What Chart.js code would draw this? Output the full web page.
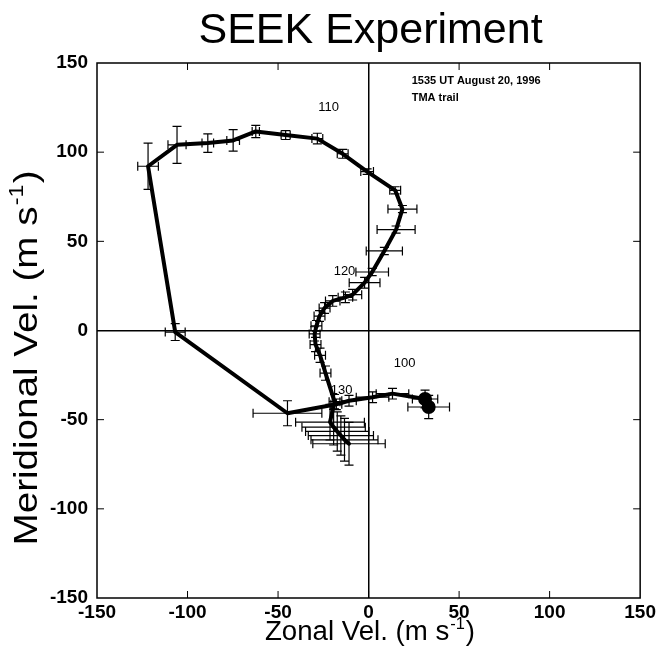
<!DOCTYPE html>
<html>
<head>
<meta charset="utf-8">
<script src="https://cdn.jsdelivr.net/npm/chart.js@4"></script>
<style>
html, body { margin: 0; padding: 0; background: #fff; }
#wrap { width: 659px; height: 649px; }
</style>
</head>
<body>
<div id="wrap"><canvas id="seek"></canvas></div>
<script>
// TMA trail, zonal / meridional wind (m/s) with error bars
const zonal = [33.2, 31.2, 13.2, 2.2, -10.8, -17.8, -44.8,
  -106.8, -121.8, -105.8, -88.8, -74.8, -62.3, -45.8, -28.3, -14.3, -0.8,
  14.7, 18.7, 15.2, 8.7, 2.0, -2.2, -8.8, -12.8, -19.8, -24.3,
  -27.1, -28.8, -29.8, -29.3, -26.8, -23.8, -18.8,
  -21.3, -19.3, -17.3, -15.3, -13.3, -10.8];
const meridional = [-42.9, -38.4, -35.4, -37.4, -39.4, -41.4, -46.4,
  -0.9, 92.1, 104.1, 105.1, 106.6, 111.6, 109.6, 107.6, 99.1, 89.1,
  78.6, 68.1, 56.6, 44.6, 32.8, 26.8, 20.1, 18.6, 16.6, 12.6,
  8.1, 2.6, -1.9, -7.9, -13.9, -23.9, -39.9,
  -51.4, -54.2, -56.6, -58.9, -61.3, -63.5];
const zonalErr = [11.5, 7, 9, 9, 4, 3, 19,
  5.5, 5.7, 5, 3.2, 3.5, 2, 2.5, 3, 3, 3.5,
  3, 8, 10.5, 10, 9, 8.5, 5, 4, 4, 3,
  3, 3, 3, 3, 3, 3, 3,
  19, 17.5, 17.5, 18, 18.5, 20];
const meridErr = [6.5, 5, 3, 3, 3, 3, 7,
  4.7, 13, 10.4, 5.2, 6, 3.4, 2.5, 3, 2.5, 1.5,
  2, 2, 2, 2, 2, 3, 3, 3, 3, 3,
  3, 3, 4, 4, 4, 4, 4,
  10, 10, 11, 11, 12, 12];

// altitude labels along the trail
const heightLabels = ['100', '110', '120', '130'];
const heightZonal = [19.9, -22.1, -13.3, -14.9];
const heightMerid = [-18.5, 125.1, 32.9, -33.5];

const infoLines = ['1535 UT August 20, 1996', 'TMA trail'];
const infoZonal = 23.8;
const infoMerid = 138.5;

const axisTicks = [-150, -100, -50, 0, 50, 100, 150];

const FONT = '"Liberation Sans", Arial, Helvetica, sans-serif';

const points = zonal.map((x, i) => ({ x: x, y: meridional[i] }));

function axisTitle(ctx, x, y, angle, size, span, main) {
  const supSize = Math.round(size * 0.6);
  ctx.save();
  ctx.translate(x, y);
  ctx.rotate(angle);
  ctx.font = `${size}px ${FONT}`;
  const w1 = ctx.measureText(main).width;
  const w3 = ctx.measureText(')').width;
  ctx.font = `${supSize}px ${FONT}`;
  const w2 = ctx.measureText('-1').width;
  const total = w1 + w2 + w3 + 2;
  ctx.scale(span / total, 1);
  ctx.fillStyle = '#000';
  ctx.textAlign = 'left';
  ctx.textBaseline = 'alphabetic';
  let px = -total / 2;
  ctx.font = `${size}px ${FONT}`;
  ctx.fillText(main, px, 0);
  px += w1 + 1;
  ctx.font = `${supSize}px ${FONT}`;
  ctx.fillText('-1', px, -size * 0.42);
  px += w2 + 1;
  ctx.font = `${size}px ${FONT}`;
  ctx.fillText(')', px, 0);
  ctx.restore();
}

const errorBars = {
  id: 'errorBars',
  beforeDatasetsDraw(chart) {
    const ctx = chart.ctx, xs = chart.scales.x, ys = chart.scales.y;
    const cap = 4.5;
    ctx.save();
    ctx.strokeStyle = '#000';
    ctx.lineWidth = 1.2;
    zonal.forEach((v, i) => {
      const px = xs.getPixelForValue(v), py = ys.getPixelForValue(meridional[i]);
      const x0 = xs.getPixelForValue(v - zonalErr[i]), x1 = xs.getPixelForValue(v + zonalErr[i]);
      const y0 = ys.getPixelForValue(meridional[i] - meridErr[i]), y1 = ys.getPixelForValue(meridional[i] + meridErr[i]);
      ctx.beginPath();
      ctx.moveTo(x0, py); ctx.lineTo(x1, py);
      ctx.moveTo(x0, py - cap); ctx.lineTo(x0, py + cap);
      ctx.moveTo(x1, py - cap); ctx.lineTo(x1, py + cap);
      ctx.moveTo(px, y0); ctx.lineTo(px, y1);
      ctx.moveTo(px - cap, y0); ctx.lineTo(px + cap, y0);
      ctx.moveTo(px - cap, y1); ctx.lineTo(px + cap, y1);
      ctx.stroke();
    });
    ctx.restore();
  }
};

const decorations = {
  id: 'decorations',
  afterDraw(chart) {
    const ctx = chart.ctx, a = chart.chartArea;
    const xs = chart.scales.x, ys = chart.scales.y;
    ctx.save();
    // frame
    ctx.strokeStyle = '#000';
    ctx.lineWidth = 1.5;
    ctx.strokeRect(a.left, a.top, a.right - a.left, a.bottom - a.top);
    // inward tick marks on all four sides
    ctx.lineWidth = 1;
    ctx.beginPath();
    axisTicks.slice(1, -1).forEach(t => {
      const px = xs.getPixelForValue(t);
      ctx.moveTo(px, a.bottom); ctx.lineTo(px, a.bottom - 7);
      ctx.moveTo(px, a.top); ctx.lineTo(px, a.top + 7);
      const py = ys.getPixelForValue(t);
      ctx.moveTo(a.left, py); ctx.lineTo(a.left + 7, py);
      ctx.moveTo(a.right, py); ctx.lineTo(a.right - 7, py);
    });
    ctx.stroke();

    // title
    ctx.fillStyle = '#000';
    ctx.textAlign = 'center';
    ctx.textBaseline = 'alphabetic';
    ctx.font = `43px ${FONT}`;
    ctx.fillText('SEEK Experiment', (a.left + a.right) / 2 + 2, 43);

    // axis titles
    axisTitle(ctx, 370, 640, 0, 27, 210, 'Zonal Vel. (m s');
    axisTitle(ctx, 37, 358, -Math.PI / 2, 33, 375, 'Meridional Vel. (m s');

    // altitude labels
    ctx.font = `13px ${FONT}`;
    ctx.textAlign = 'center';
    ctx.textBaseline = 'middle';
    heightLabels.forEach((t, i) => {
      ctx.fillText(t, xs.getPixelForValue(heightZonal[i]), ys.getPixelForValue(heightMerid[i]));
    });

    // info text
    ctx.font = `bold 11px ${FONT}`;
    ctx.textAlign = 'left';
    ctx.textBaseline = 'alphabetic';
    infoLines.forEach((t, i) => {
      ctx.fillText(t, xs.getPixelForValue(infoZonal), ys.getPixelForValue(infoMerid) + i * 17);
    });
    ctx.restore();
  }
};

const zeroLine = (c) => (c.tick && c.tick.value === 0) ? '#000' : 'rgba(0,0,0,0)';

new Chart(document.getElementById('seek'), {
  type: 'scatter',
  data: {
    datasets: [{
      data: points,
      showLine: true,
      borderColor: '#000',
      backgroundColor: '#000',
      borderWidth: 4,
      borderJoinStyle: 'round',
      borderCapStyle: 'round',
      tension: 0,
      pointRadius: zonal.map((v, i) => i < 2 ? 5 : 0),
      pointHoverRadius: 0
    }]
  },
  options: {
    responsive: true,
    maintainAspectRatio: false,
    animation: false,
    layout: { padding: { top: 63, right: 18, left: 0, bottom: 0 } },
    plugins: { legend: { display: false }, tooltip: { enabled: false }, title: { display: false } },
    scales: {
      x: {
        type: 'linear', min: -150, max: 150,
        afterFit(s) { s.height = 51; },
        afterBuildTicks(s) { s.ticks = axisTicks.map(v => ({ value: v })); },
        ticks: { color: '#000', padding: 3, font: { family: FONT, size: 19, weight: 'bold' } },
        grid: { color: zeroLine, lineWidth: 1.5, drawTicks: false },
        border: { display: false }
      },
      y: {
        type: 'linear', min: -150, max: 150,
        afterFit(s) { s.width = 97; },
        afterBuildTicks(s) { s.ticks = axisTicks.map(v => ({ value: v })); },
        ticks: { color: '#000', padding: 9, font: { family: FONT, size: 19, weight: 'bold' } },
        grid: { color: zeroLine, lineWidth: 1.5, drawTicks: false },
        border: { display: false }
      }
    }
  },
  plugins: [errorBars, decorations]
});
</script>
</body>
</html>
